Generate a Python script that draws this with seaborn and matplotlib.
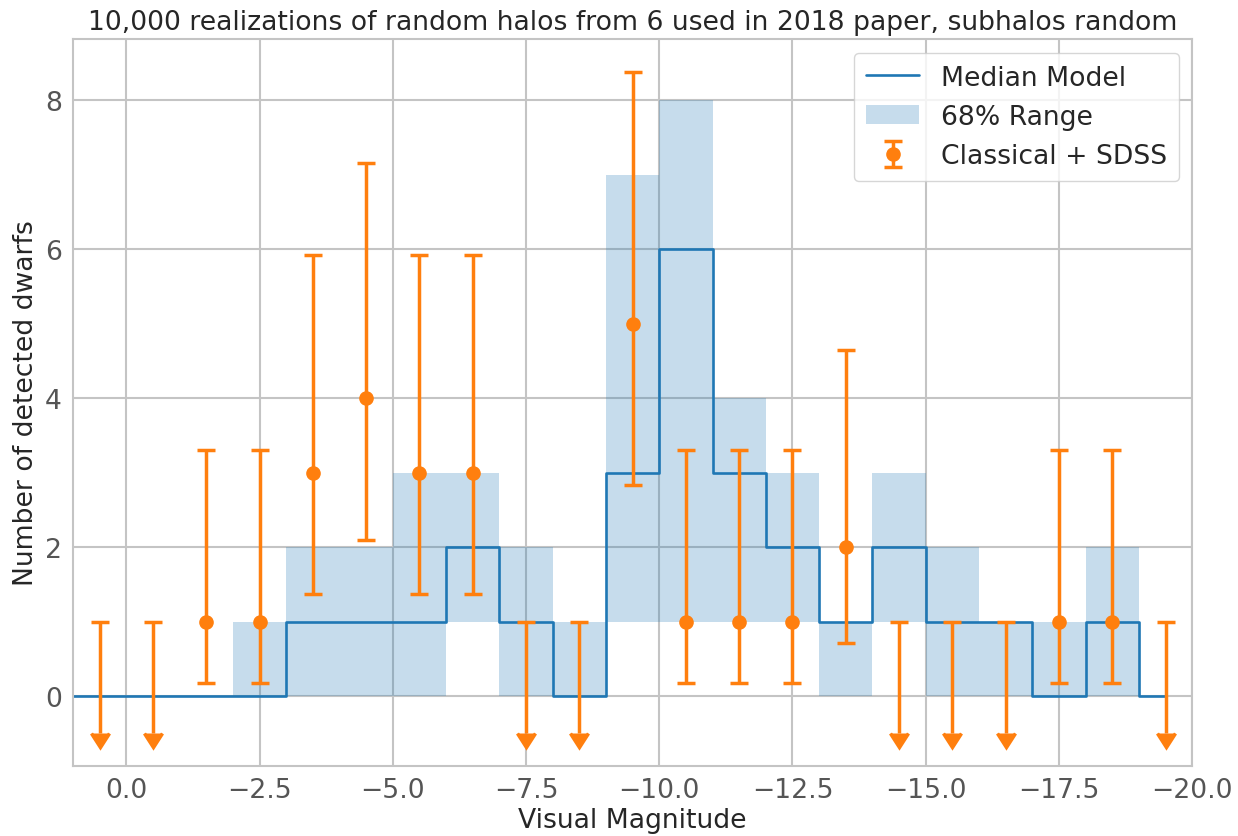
import numpy as np
import matplotlib
matplotlib.use("Agg")
import matplotlib.pyplot as plt
import seaborn as sns

# ---- data ----
bin_edges = np.arange(1, -21, -1)          # magnitude bin edges, 1 ... -20
centers = 0.5 * (bin_edges[:-1] + bin_edges[1:])

median_model = np.array([0, 0, 0, 0, 1, 1, 1, 2, 1, 0, 3, 6, 3, 2, 1, 2, 1, 1, 0, 1, 0])
range68_low  = np.array([0, 0, 0, 0, 0, 0, 0, 1, 0, 0, 1, 1, 1, 1, 0, 1, 0, 0, 0, 0, 0])
range68_high = np.array([0, 0, 0, 1, 2, 2, 3, 3, 2, 1, 7, 8, 4, 3, 1, 3, 2, 1, 1, 2, 0])

observed     = np.array([0, 0, 1, 1, 3, 4, 3, 3, 0, 0, 5, 1, 1, 1, 2, 0, 0, 0, 1, 1, 0])
obs_lower    = np.array([0, 0, 0.17, 0.17, 1.37, 2.09, 1.37, 1.37, 0, 0, 2.84, 0.17, 0.17, 0.17,
                         0.71, 0, 0, 0, 0.17, 0.17, 0])
obs_upper    = np.array([0, 0, 3.30, 3.30, 5.92, 7.16, 5.92, 5.92, 0, 0, 8.38, 3.30, 3.30, 3.30,
                         4.64, 0, 0, 0, 3.30, 3.30, 0])
limit_top = 1.0      # upper limit drawn for empty bins
limit_bottom = -0.5  # where the downward arrow sits

title = "10,000 realizations of random halos from 6 used in 2018 paper, subhalos random"
xlabel = "Visual Magnitude"
ylabel = "Number of detected dwarfs"
xticks = [0.0, -2.5, -5.0, -7.5, -10.0, -12.5, -15.0, -17.5, -20.0]
yticks = [0, 2, 4, 6, 8]

# ---- style ----
sns.set_theme(style="whitegrid")
plt.rcParams["font.family"] = ["DejaVu Sans"]
plt.rcParams.update({
    "grid.color": "#c4c4c4",
    "grid.linewidth": 1.5,
    "axes.edgecolor": "#c4c4c4",
    "axes.linewidth": 1.5,
    "xtick.color": "#555555",
    "ytick.color": "#555555",
})
FS = 19.2

fig = plt.figure(figsize=(12.38, 8.37), dpi=100)
ax = fig.add_axes([0.059, 0.0836, 0.904, 0.8684])

blue = "#1f77b4"
orange = "#ff7f0e"

# median model (steps), extended to the left axis edge
line_x = np.r_[bin_edges[0], centers]
line_y = np.r_[median_model[0], median_model]
sns.lineplot(x=line_x, y=line_y, ax=ax, drawstyle="steps-mid", color=blue,
             linewidth=1.9, label="Median Model", sort=False)

# 68% range
ax.fill_between(centers, range68_low, range68_high, step="mid",
                color=blue, alpha=0.25, linewidth=0, label="68% Range")

# detections
det = observed > 0
ax.errorbar(centers[det], observed[det],
            yerr=[observed[det] - obs_lower[det], obs_upper[det] - observed[det]],
            fmt="o", color=orange, markersize=9.5, elinewidth=2.5, capsize=6.4,
            capthick=2.5, label="Classical + SDSS", zorder=4)

# upper limits for empty bins
nd = ~det
n_nd = nd.sum()
ax.errorbar(centers[nd], np.full(n_nd, limit_top),
            yerr=np.full(n_nd, limit_top - limit_bottom), uplims=True,
            fmt="none", color=orange, ecolor=orange, elinewidth=2.5, capsize=6.8,
            capthick=2.5, zorder=4)

ax.set_xlim(bin_edges[0], bin_edges[-1])
ax.set_ylim(-0.94, 8.82)
ax.set_xticks(xticks)
ax.set_yticks(yticks)
ax.tick_params(labelsize=FS, length=0, pad=8)
ax.set_xlabel(xlabel, fontsize=FS, color="#262626", labelpad=3)
ax.set_ylabel(ylabel, fontsize=FS, color="#262626", labelpad=4)
ax.set_title(title, fontsize=FS, color="#262626", pad=7)

leg = ax.legend(loc="upper right", fontsize=FS, frameon=True, fancybox=True,
                borderpad=0.45, handlelength=2.0)
leg.get_frame().set_edgecolor("#cccccc")
leg.get_frame().set_alpha(0.8)

fig.savefig("out.png", dpi=100)
